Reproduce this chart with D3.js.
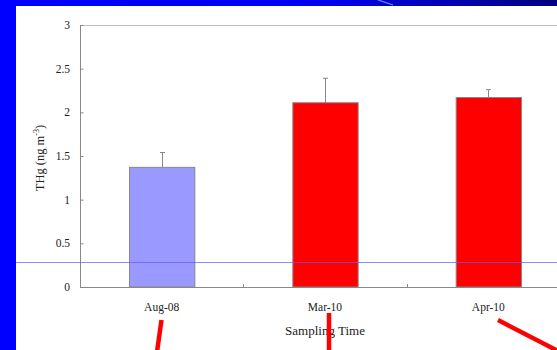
<!DOCTYPE html>
<html>
<head>
<meta charset="utf-8">
<script src="https://cdn.jsdelivr.net/npm/d3@7/dist/d3.min.js"></script>
<style>
  html, body { margin: 0; padding: 0; background: #fff; }
  svg { display: block; }
  text { font-family: "Liberation Serif", "Times New Roman", serif; fill: #222; }
</style>
</head>
<body>
<svg id="chart" width="557" height="350"></svg>
<script>
// Sampling campaigns and mean total gaseous mercury
const categories = ["Aug-08", "Mar-10", "Apr-10"];
const thgMean = [1.37, 2.11, 2.17];
const thgErr = [0.17, 0.28, 0.09];
const barColors = ["#9999ff", "#ff0000", "#ff0000"];
const yTicks = [0, 0.5, 1, 1.5, 2, 2.5, 3];
const baselineValue = 0.29;

const W = 557, H = 350;
const svg = d3.select("#chart");

// Slide background: blue frame with gradient header strip
const defs = svg.append("defs");
const grad = defs.append("linearGradient").attr("id", "hdr").attr("x1", "0").attr("x2", "1");
grad.append("stop").attr("offset", "0").attr("stop-color", "#0000ff");
grad.append("stop").attr("offset", "0.58").attr("stop-color", "#0000f0");
grad.append("stop").attr("offset", "1").attr("stop-color", "#000080");
svg.append("rect").attr("width", W).attr("height", H).attr("fill", "#0000ff");
svg.append("rect").attr("x", 0).attr("y", 0).attr("width", W).attr("height", 6).attr("fill", "url(#hdr)");
svg.append("line").attr("x1", 378).attr("y1", 0).attr("x2", 393).attr("y2", 5)
  .attr("stroke", "#6f8fff").attr("stroke-width", 1.2);
svg.append("rect").attr("x", 16).attr("y", 6).attr("width", W - 16).attr("height", H - 6).attr("fill", "#fff");

// Plot area
const margin = { left: 80, top: 25, bottom: 287, right: 570 };
const x = d3.scaleBand().domain(categories).range([margin.left, margin.right]).paddingInner(0.6).paddingOuter(0.3);
const xOuter = d3.scaleBand().domain(categories).range([margin.left, margin.right]);
const y = d3.scaleLinear().domain([0, 3]).range([margin.bottom, margin.top]);

// Frame: top border
svg.append("line").attr("x1", margin.left).attr("x2", W).attr("y1", y(3) + 0.5).attr("y2", y(3) + 0.5)
  .attr("stroke", "#bdbdbd").attr("stroke-width", 1);

// Bars
svg.append("g").selectAll("rect").data(categories).join("rect")
  .attr("x", d => x(d) + 0.5)
  .attr("y", (d, i) => y(thgMean[i]))
  .attr("width", x.bandwidth())
  .attr("height", (d, i) => y(0) - y(thgMean[i]))
  .attr("fill", (d, i) => barColors[i])
  .attr("stroke", "#888")
  .attr("stroke-width", 1);

// Error bars (upper side only)
const eb = svg.append("g").attr("stroke", "#888").attr("stroke-width", 1);
categories.forEach((c, i) => {
  const cx = Math.round(x(c) + x.bandwidth() / 2) + 0.5;
  eb.append("line").attr("x1", cx).attr("x2", cx)
    .attr("y1", y(thgMean[i])).attr("y2", y(thgMean[i] + thgErr[i]));
  eb.append("line").attr("x1", cx - 2.5).attr("x2", cx + 2.5)
    .attr("y1", y(thgMean[i] + thgErr[i])).attr("y2", y(thgMean[i] + thgErr[i]));
});

// Y axis with inward ticks
const yAxis = svg.append("g").attr("transform", `translate(${margin.left + 0.5},0)`)
  .call(d3.axisRight(y).tickValues(yTicks).tickSize(3).tickFormat(d3.format("")));
yAxis.select(".domain").remove();
yAxis.selectAll(".tick line").attr("stroke", "#888");
yAxis.selectAll(".tick text").remove();
svg.append("line").attr("x1", margin.left + 0.5).attr("x2", margin.left + 0.5)
  .attr("y1", y(3)).attr("y2", y(0)).attr("stroke", "#888");
svg.append("g").selectAll("text").data(yTicks).join("text")
  .attr("x", margin.left - 10).attr("y", d => y(d) + 4)
  .attr("text-anchor", "end").attr("font-size", 11.5)
  .text(d => d3.format("")(d));

// X axis: baseline plus separator ticks between categories
svg.append("line").attr("x1", margin.left).attr("x2", W).attr("y1", y(0) + 0.5).attr("y2", y(0) + 0.5)
  .attr("stroke", "#888");
svg.append("g").selectAll("line").data(categories.slice(1)).join("line")
  .attr("x1", d => Math.round(xOuter(d)) + 0.5).attr("x2", d => Math.round(xOuter(d)) + 0.5)
  .attr("y1", y(0)).attr("y2", y(0) - 3).attr("stroke", "#888");
svg.append("g").selectAll("text").data(categories).join("text")
  .attr("x", d => x(d) + x.bandwidth() / 2).attr("y", 311)
  .attr("text-anchor", "middle").attr("font-size", 11.5)
  .text(d => d);

// Axis titles
svg.append("text").attr("x", 325).attr("y", 335).attr("text-anchor", "middle")
  .attr("font-size", 13).text("Sampling Time");
const yt = svg.append("text").attr("transform", "translate(44,158) rotate(-90)")
  .attr("text-anchor", "middle").attr("font-size", 12.5);
yt.append("tspan").text("THg (ng m");
yt.append("tspan").attr("font-size", 8).attr("dy", -5).text("-3");
yt.append("tspan").attr("dy", 5).text(")");

// Reference level line across the slide
svg.append("line").attr("x1", 16).attr("x2", W)
  .attr("y1", Math.round(y(baselineValue)) + 0.5).attr("y2", Math.round(y(baselineValue)) + 0.5)
  .attr("stroke", "#5a5aff").attr("stroke-opacity", 0.7).attr("stroke-width", 1);

// Red pointer strokes below the category labels
const pointers = svg.append("g").attr("stroke", "#ff0000").attr("stroke-width", 4.5);
pointers.append("line").attr("x1", 161.5).attr("y1", 320).attr("x2", 157).attr("y2", 352);
pointers.append("line").attr("x1", 329).attr("y1", 313).attr("x2", 329).attr("y2", 352);
pointers.append("line").attr("x1", 498).attr("y1", 320).attr("x2", 560).attr("y2", 352);
</script>
</body>
</html>
